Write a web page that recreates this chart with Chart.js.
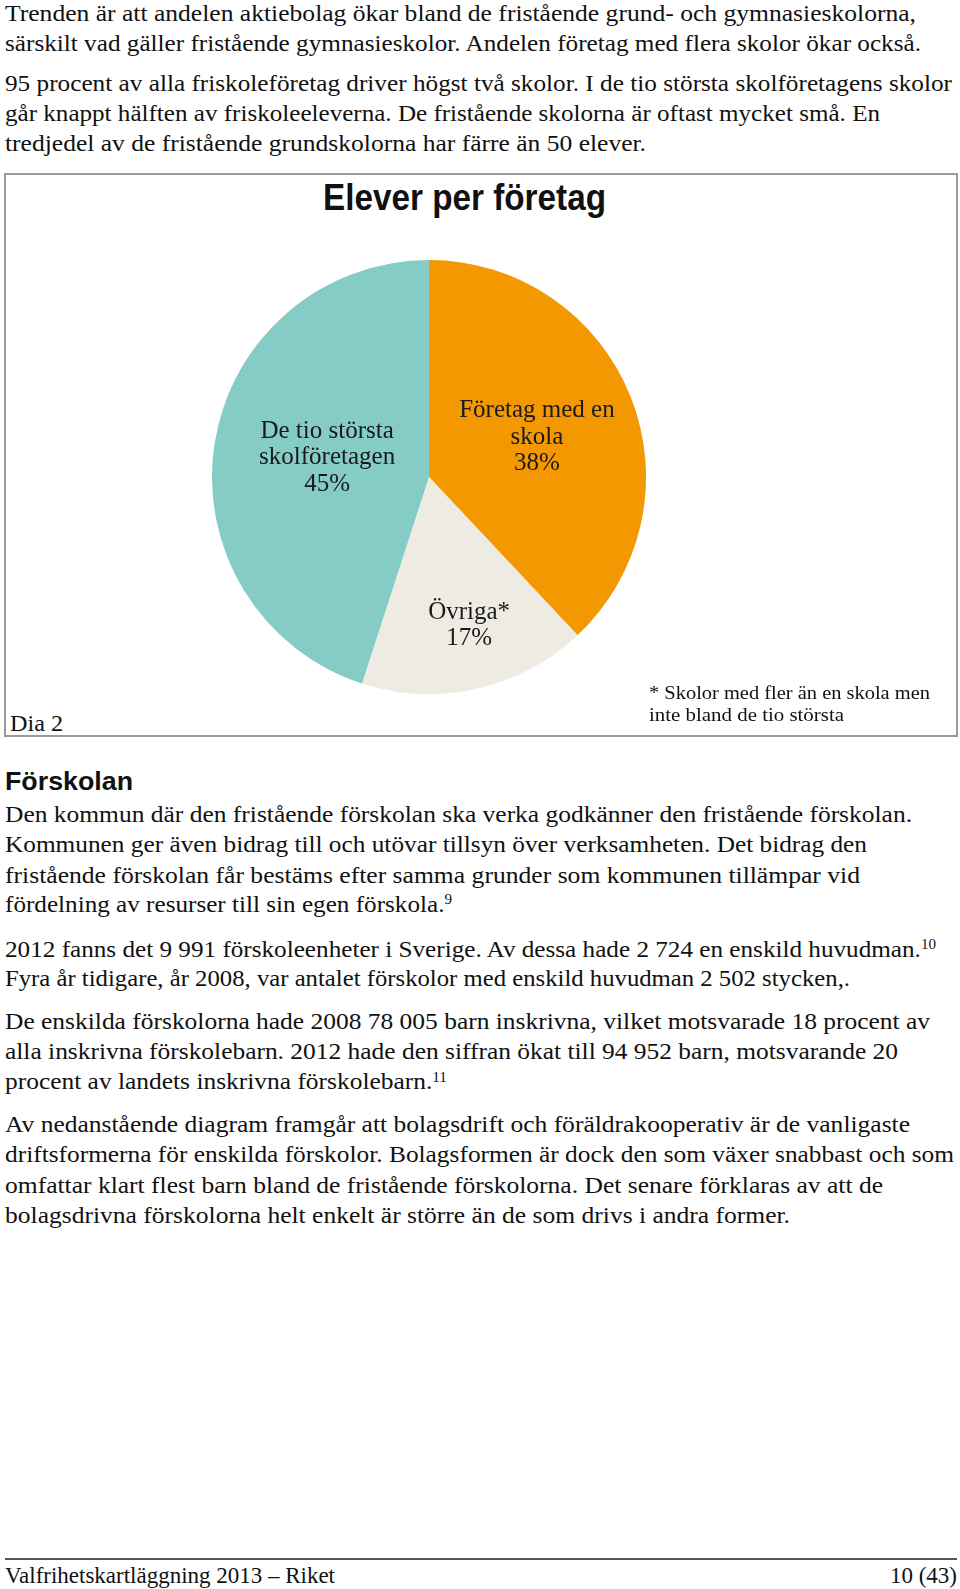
<!DOCTYPE html>
<html>
<head>
<meta charset="utf-8">
<script src="https://cdn.jsdelivr.net/npm/chart.js@4.4.0/dist/chart.umd.min.js"></script>
<style>
  html, body { margin: 0; padding: 0; background: #fff; }
  body { width: 960px; height: 1589px; position: relative; overflow: hidden; }
  .ln { position: absolute; white-space: nowrap; transform-origin: 0 0; color: #111; }
  .serif { font-family: "Liberation Serif", "DejaVu Serif", serif; }
  .sans { font-family: "Liberation Sans", Arial, sans-serif; font-weight: bold; }
  sup { font-size: 0.6em; vertical-align: 0; position: relative; top: -0.55em; }
  #box { position: absolute; left: 4px; top: 173px; width: 950px; height: 560px; border: 2px solid #9a9a9a; box-sizing: content-box; }
  #footline { position: absolute; left: 5px; top: 1558px; width: 952px; height: 2px; background: #555; }
  #pie { position: absolute; left: 199px; top: 247px; }
</style>
</head>
<body>
<div id="box"></div>
<canvas id="pie" width="460" height="460"></canvas>
<div id="footline"></div>
<script>
// ---- chart data ----
const categories = ["Företag med en skola", "Övriga*", "De tio största skolföretagen"];
const labelLines = [["Företag med en", "skola"], ["Övriga*"], ["De tio största", "skolföretagen"]];
const values = [38, 17, 45];
const chartTitle = "Elever per företag";
const diagramLabel = "Dia 2";
const footnote = ["* Skolor med fler än en skola men", "inte bland de tio största"];

// ---- styles ----
const sliceColors = ["#F39800", "#EDEBE2", "#85CBC6"];
const labelDist = [0.535, 0.70, 0.48];
const labelNudgeX = [0, 7, 1];
const labelNudgeY = [3, 0, -3];

// ---- page text ----
const lines = [
  // [html, font, size, left, right, centerY]
  ["Trenden är att andelen aktiebolag ökar bland de fristående grund- och gymnasieskolorna,", "serif", 23, 5, 916, 14.5],
  ["särskilt vad gäller fristående gymnasieskolor. Andelen företag med flera skolor ökar också.", "serif", 23, 5, 921, 44],
  ["95 procent av alla friskoleföretag driver högst två skolor. I de tio största skolföretagens skolor", "serif", 23, 5, 952, 84.5],
  ["går knappt hälften av friskoleeleverna. De fristående skolorna är oftast mycket små. En", "serif", 23, 5, 880, 114],
  ["tredjedel av de fristående grundskolorna har färre än 50 elever.", "serif", 23, 5, 646, 144],
  [chartTitle, "sans", 37, 323, 606, 198],
  [diagramLabel, "serif", 23, 10, 63, 724],
  [footnote[0], "serif", 19, 649, 930, 693],
  [footnote[1], "serif", 19, 649, 844, 715],
  ["Förskolan", "sans", 25, 5, 133, 781.5],
  ["Den kommun där den fristående förskolan ska verka godkänner den fristående förskolan.", "serif", 23, 5, 912, 815],
  ["Kommunen ger även bidrag till och utövar tillsyn över verksamheten. Det bidrag den", "serif", 23, 5, 867, 845.4],
  ["fristående förskolan får bestäms efter samma grunder som kommunen tillämpar vid", "serif", 23, 5, 860, 875.8],
  ["fördelning av resurser till sin egen förskola.<sup>9</sup>", "serif", 23, 5, 452, 905.2],
  ["2012 fanns det 9 991 förskoleenheter i Sverige. Av dessa hade 2 724 en enskild huvudman.<sup>10</sup>", "serif", 23, 5, 936, 949.8],
  ["Fyra år tidigare, år 2008, var antalet förskolor med enskild huvudman 2 502 stycken,.", "serif", 23, 5, 850, 979.2],
  ["De enskilda förskolorna hade 2008 78 005 barn inskrivna, vilket motsvarade 18 procent av", "serif", 23, 5, 930, 1021.8],
  ["alla inskrivna förskolebarn. 2012 hade den siffran ökat till 94 952 barn, motsvarande 20", "serif", 23, 5, 898, 1052.2],
  ["procent av landets inskrivna förskolebarn.<sup>11</sup>", "serif", 23, 5, 447, 1082.6],
  ["Av nedanstående diagram framgår att bolagsdrift och föräldrakooperativ är de vanligaste", "serif", 23, 5, 910, 1125.2],
  ["driftsformerna för enskilda förskolor. Bolagsformen är dock den som växer snabbast och som", "serif", 23, 5, 954, 1155.6],
  ["omfattar klart flest barn bland de fristående förskolorna. Det senare förklaras av att de", "serif", 23, 5, 883, 1186],
  ["bolagsdrivna förskolorna helt enkelt är större än de som drivs i andra former.", "serif", 23, 5, 790, 1216.4],
  ["Valfrihetskartläggning 2013 – Riket", "serif", 23, 5, 335, 1576],
  ["10 (43)", "serif", 23, 890, 957, 1576]
];

const metrics = {
  serif: { asc: 0.891, desc: 0.216, cap: 0.662 },
  sans: { asc: 0.905, desc: 0.212, cap: 0.716 }
};

function placeLines() {
  lines.forEach(([html, font, size, left, right, cy]) => {
    const d = document.createElement("div");
    d.className = "ln " + font;
    d.innerHTML = html;
    const H = Math.round(size * 1.3);
    d.style.fontSize = size + "px";
    d.style.lineHeight = H + "px";
    d.style.left = left + "px";
    const m = metrics[font];
    const baseOff = (H - (m.asc + m.desc) * size) / 2 + m.asc * size;
    const capMid = baseOff - m.cap * size / 2;
    d.style.top = (cy - capMid) + "px";
    document.body.appendChild(d);
    const w = d.getBoundingClientRect().width;
    if (w > 0) d.style.transform = "scaleX(" + ((right - left) / w) + ")";
  });
}

const sliceLabelPlugin = {
  id: "sliceLabels",
  afterDatasetsDraw(chart) {
    const ctx = chart.ctx;
    const meta = chart.getDatasetMeta(0);
    const data = chart.data.datasets[0].data;
    const total = data.reduce((a, b) => a + b, 0);
    ctx.save();
    ctx.font = '25px "Liberation Serif", serif';
    ctx.fillStyle = "#1a1a1a";
    ctx.textAlign = "center";
    ctx.textBaseline = "middle";
    meta.data.forEach((arc, i) => {
      const p = arc.getProps(["x", "y", "startAngle", "endAngle", "outerRadius"], true);
      const mid = (p.startAngle + p.endAngle) / 2;
      const r = p.outerRadius * labelDist[i];
      const cx = p.x + Math.cos(mid) * r + labelNudgeX[i];
      const cy = p.y + Math.sin(mid) * r + labelNudgeY[i];
      const txt = labelLines[i].concat([Math.round(data[i] / total * 100) + "%"]);
      const lh = 26.5;
      const y0 = cy - (txt.length - 1) * lh / 2;
      txt.forEach((t, k) => ctx.fillText(t, cx, y0 + k * lh));
    });
    ctx.restore();
  }
};

function drawChart() {
  new Chart(document.getElementById("pie"), {
    type: "pie",
    data: {
      labels: categories,
      datasets: [{
        data: values,
        backgroundColor: sliceColors,
        borderWidth: 0,
        hoverOffset: 0,
        offset: 0
      }]
    },
    options: {
      responsive: false,
      animation: false,
      devicePixelRatio: 1,
      layout: { padding: 13 },
      plugins: {
        legend: { display: false },
        title: { display: false },
        tooltip: { enabled: false }
      }
    },
    plugins: [sliceLabelPlugin]
  });
}

(document.fonts ? document.fonts.ready : Promise.resolve()).then(() => {
  placeLines();
  drawChart();
});
</script>
</body>
</html>
